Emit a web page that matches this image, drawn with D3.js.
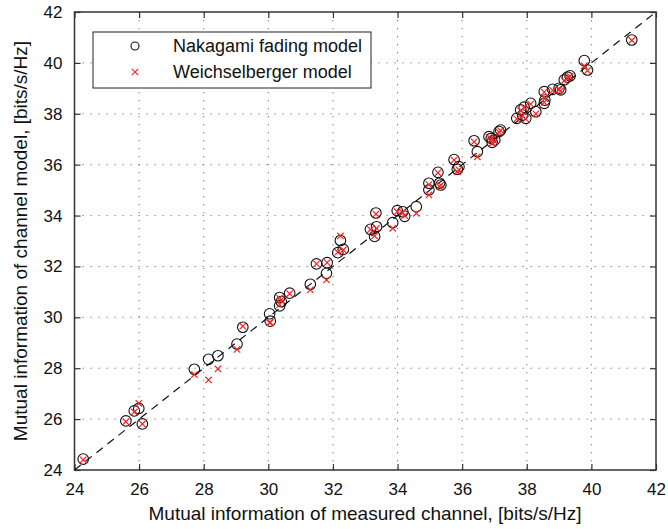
<!DOCTYPE html>
<html>
<head>
<meta charset="utf-8">
<script src="https://cdn.jsdelivr.net/npm/d3@7"></script>
<style>
  body { margin: 0; background: #fff; }
  text { font-family: "Liberation Sans", Arial, sans-serif; fill: #111; }
</style>
</head>
<body>
<svg id="chart" width="668" height="529"></svg>
<script>
// measured channel MI (x), and the two model values (y)
var measured = [24.27, 25.59, 25.85, 25.99, 26.10, 27.71, 28.15, 28.44, 29.03, 29.21,
  30.04, 30.06, 30.35, 30.40, 30.35, 30.66, 31.30, 31.49, 31.82, 31.80,
  32.15, 32.32, 32.23, 33.16, 33.35, 33.29, 33.33, 33.85, 33.99, 34.16,
  34.22, 34.58, 34.97, 34.97, 35.25, 35.30, 35.34, 35.75, 35.90, 35.85,
  36.37, 36.47, 36.83, 36.90, 37.01, 37.14, 37.19, 36.93, 37.69, 37.81,
  37.92, 37.87, 37.97, 38.12, 38.28, 38.54, 38.56, 38.54, 38.80, 39.00,
  39.05, 39.16, 39.26, 39.34, 39.78, 39.88, 41.25];
var nakagami = [24.43, 25.93, 26.32, 26.42, 25.81, 27.96, 28.35, 28.49, 28.95, 29.61,
  30.14, 29.85, 30.78, 30.62, 30.45, 30.95, 31.30, 32.10, 32.15, 31.73,
  32.54, 32.67, 33.02, 33.46, 33.56, 33.18, 34.10, 33.72, 34.19, 34.15,
  33.97, 34.35, 35.27, 35.01, 35.70, 35.27, 35.20, 36.20, 35.92, 35.82,
  36.94, 36.51, 37.10, 37.03, 36.97, 37.30, 37.36, 36.88, 37.82, 38.15,
  38.26, 37.95, 37.82, 38.41, 38.08, 38.87, 38.54, 38.41, 38.96, 39.00,
  38.94, 39.33, 39.44, 39.49, 40.09, 39.72, 40.90];
var weichsel = [24.40, 25.90, 26.28, 26.62, 25.81, 27.75, 27.54, 27.97, 28.74, 29.65,
  29.79, 29.80, 30.75, 30.68, 30.50, 30.93, 31.08, 32.10, 32.15, 31.47,
  32.56, 32.65, 33.20, 33.45, 33.50, 33.20, 34.06, 33.50, 34.15, 34.12,
  34.00, 34.09, 35.22, 34.81, 35.68, 35.14, 35.20, 36.18, 35.80, 35.72,
  36.90, 36.31, 37.08, 37.00, 36.92, 37.28, 37.34, 36.85, 37.80, 38.12,
  38.25, 37.92, 37.80, 38.38, 38.00, 38.85, 38.60, 38.45, 38.92, 38.95,
  38.90, 39.30, 39.40, 39.47, 39.88, 39.70, 40.88];
var tickValues = [24, 26, 28, 30, 32, 34, 36, 38, 40, 42];
var legendLabels = ["Nakagami fading model", "Weichselberger model"];

var svg = d3.select("#chart");
// plot box (don't use "top" - it's window.top)
var pL = 74.5, pR = 656, pT = 12, pB = 470;

var x = d3.scaleLinear().domain([24, 42]).range([pL, pR]);
var y = d3.scaleLinear().domain([24, 42]).range([pB, pT]);

// dotted grid
var grid = svg.append("g");
tickValues.slice(1, -1).forEach(function (t) {
  grid.append("line").attr("x1", x(t)).attr("x2", x(t)).attr("y1", pT).attr("y2", pB);
  grid.append("line").attr("x1", pL).attr("x2", pR).attr("y1", y(t)).attr("y2", y(t));
});
grid.selectAll("line")
  .attr("stroke", "#777")
  .attr("stroke-width", 1)
  .attr("stroke-dasharray", "1.3,6.7");

// axes, ticks inside, mirrored on top/right
function styleAxis(g) {
  g.select(".domain").remove();
  g.selectAll(".tick line").attr("stroke", "#333").attr("stroke-width", 1.2);
  g.selectAll(".tick text").style("font-size", "17px").attr("fill", "#111");
}
svg.append("g").attr("transform", "translate(0," + pB + ")")
  .call(d3.axisBottom(x).tickValues(tickValues).tickSizeInner(-6).tickSizeOuter(0).tickPadding(13))
  .call(styleAxis);
svg.append("g").attr("transform", "translate(" + pL + ",0)")
  .call(d3.axisLeft(y).tickValues(tickValues).tickSizeInner(-6).tickSizeOuter(0).tickPadding(12))
  .call(styleAxis);
svg.append("g").attr("transform", "translate(0," + pT + ")")
  .call(d3.axisTop(x).tickValues(tickValues).tickSizeInner(-6).tickSizeOuter(0).tickFormat(""))
  .call(styleAxis);
svg.append("g").attr("transform", "translate(" + pR + ",0)")
  .call(d3.axisRight(y).tickValues(tickValues).tickSizeInner(-6).tickSizeOuter(0).tickFormat(""))
  .call(styleAxis);

svg.append("rect")
  .attr("x", pL).attr("y", pT)
  .attr("width", pR - pL).attr("height", pB - pT)
  .attr("fill", "none").attr("stroke", "#333").attr("stroke-width", 1.5);

// y = x reference line
svg.append("path")
  .datum([24, 42])
  .attr("d", d3.line().x(function (d) { return x(d); }).y(function (d) { return y(d); }))
  .attr("fill", "none")
  .attr("stroke", "#111")
  .attr("stroke-width", 1.2)
  .attr("stroke-dasharray", "8,6");

var crossPath = "M-3.2,-3.2L3.2,3.2M-3.2,3.2L3.2,-3.2";

// Nakagami circles
svg.append("g").selectAll("circle")
  .data(measured)
  .join("circle")
  .attr("cx", function (d) { return x(d); })
  .attr("cy", function (d, i) { return y(nakagami[i]); })
  .attr("r", 5.3)
  .attr("fill", "none")
  .attr("stroke", "#111")
  .attr("stroke-width", 1.1);

// Weichselberger crosses
svg.append("g").selectAll("path")
  .data(measured)
  .join("path")
  .attr("transform", function (d, i) { return "translate(" + x(d) + "," + y(weichsel[i]) + ")"; })
  .attr("d", crossPath)
  .attr("stroke", "#ff2020")
  .attr("stroke-width", 1.2);

// legend
var lg = svg.append("g");
lg.append("rect")
  .attr("x", 93).attr("y", 32).attr("width", 278).attr("height", 56)
  .attr("fill", "#fff").attr("stroke", "#222").attr("stroke-width", 1);
lg.append("circle").attr("cx", 135).attr("cy", 46).attr("r", 4)
  .attr("fill", "none").attr("stroke", "#111").attr("stroke-width", 1.1);
lg.append("path").attr("transform", "translate(135,72)").attr("d", crossPath)
  .attr("stroke", "#ff2020").attr("stroke-width", 1.2);
lg.selectAll("text.lab")
  .data(legendLabels)
  .join("text")
  .attr("class", "lab")
  .attr("x", 173)
  .attr("y", function (d, i) { return 52 + i * 26; })
  .style("font-size", "18px")
  .text(function (d) { return d; });

// axis titles
svg.append("text")
  .attr("x", 365).attr("y", 520)
  .attr("text-anchor", "middle")
  .style("font-size", "19px")
  .text("Mutual information of measured channel, [bits/s/Hz]");
svg.append("text")
  .attr("transform", "translate(27," + ((pT + pB) / 2) + ") rotate(-90)")
  .attr("text-anchor", "middle")
  .style("font-size", "19px")
  .text("Mutual information of channel model, [bits/s/Hz]");
</script>
</body>
</html>
